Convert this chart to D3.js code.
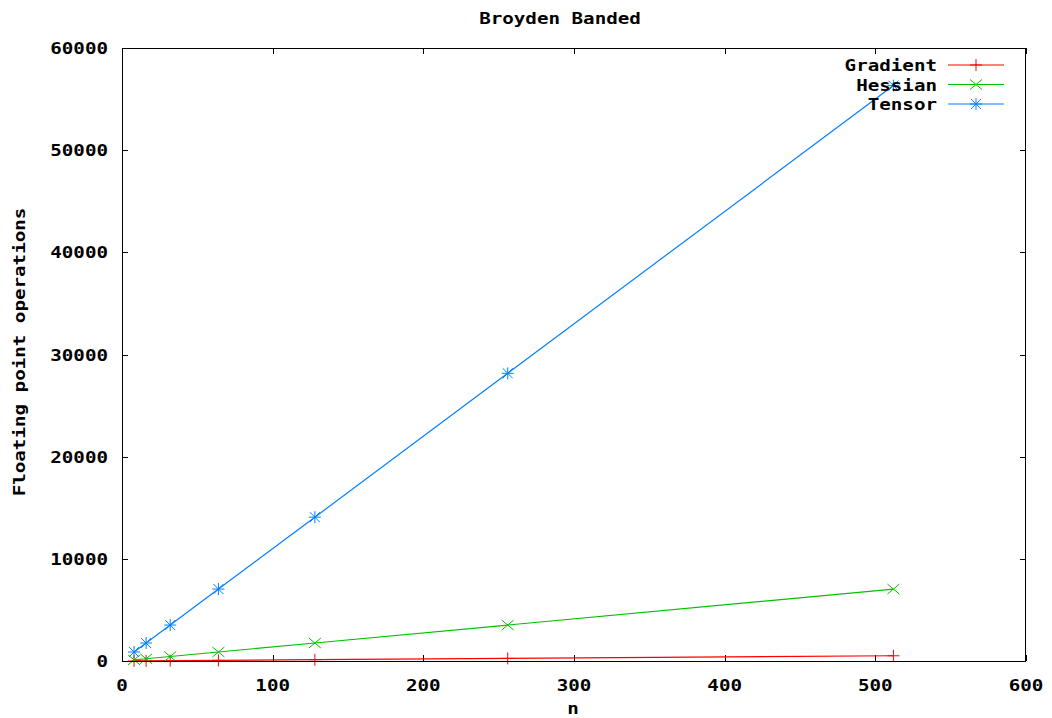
<!DOCTYPE html>
<html><head><meta charset="utf-8">
<script src="https://cdn.jsdelivr.net/npm/d3@7"></script>
<style>
html,body{margin:0;padding:0;background:#fff;}
text{font-family:"DejaVu Sans Mono","Liberation Mono",monospace;font-weight:bold;font-size:16px;fill:#000;}
</style></head>
<body><svg id="c" width="1052" height="718"></svg>
<script>
const nValues = [8, 16, 32, 64, 128, 256, 512];
const gradient = [8, 16, 32, 64, 128, 256, 512];
const hessian = [110, 220, 440, 880, 1760, 3520, 7040];
const tensor = [880, 1760, 3520, 7040, 14080, 28160, 56320];
const seriesNames = ["Gradient", "Hessian", "Tensor"];
const seriesColors = ["#ff0000", "#00c000", "#0080ff"];
const xTicks = [0, 100, 200, 300, 400, 500, 600];
const yTicks = [0, 10000, 20000, 30000, 40000, 50000, 60000];
const title = "Broyden Banded";
const xLabel = "n";
const yLabel = "Floating point operations";

const svg = d3.select("#c");
const L = 122, R = 1026, T = 48, B = 661;
const x = d3.scaleLinear().domain([0, 600]).range([L, R]);
const y = d3.scaleLinear().domain([0, 60000]).range([B, T]);
const SX = 1.2;

function label(px, py, txt, anchor, rot) {
  svg.append("g").attr("transform", "translate(" + px + "," + py + ")" + (rot ? " rotate(" + rot + ")" : "") + " scale(" + SX + ",1)")
    .append("text").attr("text-anchor", anchor).text(txt);
}

// ticks (inward, mirrored)
const tk = 6;
const g = svg.append("g").attr("stroke", "#000").attr("stroke-width", 1).attr("shape-rendering", "crispEdges");
xTicks.forEach(v => {
  const px = Math.round(x(v)) + 0.5;
  g.append("line").attr("x1", px).attr("x2", px).attr("y1", B).attr("y2", B - tk);
  g.append("line").attr("x1", px).attr("x2", px).attr("y1", T).attr("y2", T + tk);
});
yTicks.forEach(v => {
  const py = Math.round(y(v)) + 0.5;
  g.append("line").attr("x1", L).attr("x2", L + tk).attr("y1", py).attr("y2", py);
  g.append("line").attr("x1", R).attr("x2", R - tk).attr("y1", py).attr("y2", py);
});

// tick labels
xTicks.forEach(v => label(x(v), 691, v, "middle"));
yTicks.forEach(v => label(108, y(v) + 6, v, "end"));

// titles
label(560, 24, title, "middle");
label(573, 714, xLabel, "middle");
label(25, 352, yLabel, "middle", -90);

// markers
function marker(sel, type, cx, cy, color) {
  const s = 6;
  const m = sel.append("g").attr("stroke", color).attr("stroke-width", 1).attr("fill", "none");
  if (type === 0) {
    m.append("line").attr("x1", cx - s).attr("x2", cx + s).attr("y1", cy).attr("y2", cy);
    m.append("line").attr("x1", cx).attr("x2", cx).attr("y1", cy - s).attr("y2", cy + s);
  } else if (type === 1) {
    m.append("line").attr("x1", cx - s).attr("x2", cx + s).attr("y1", cy - s + 1).attr("y2", cy + s - 1);
    m.append("line").attr("x1", cx - s).attr("x2", cx + s).attr("y1", cy + s - 1).attr("y2", cy - s + 1);
  } else {
    m.append("line").attr("x1", cx - s).attr("x2", cx + s).attr("y1", cy).attr("y2", cy);
    m.append("line").attr("x1", cx).attr("x2", cx).attr("y1", cy - s).attr("y2", cy + s);
    m.append("line").attr("x1", cx - s + 1).attr("x2", cx + s - 1).attr("y1", cy - s + 1).attr("y2", cy + s - 1);
    m.append("line").attr("x1", cx - s + 1).attr("x2", cx + s - 1).attr("y1", cy + s - 1).attr("y2", cy - s + 1);
  }
}

const data = [gradient, hessian, tensor];
const line = d3.line().x(d => x(d[0])).y(d => y(d[1]));
data.forEach((vals, i) => {
  const pts = nValues.map((n, j) => [n, vals[j]]);
  svg.append("path").attr("d", line(pts)).attr("fill", "none").attr("stroke", seriesColors[i]).attr("stroke-width", 1.2);
  pts.forEach(p => marker(svg, i, x(p[0]), y(p[1]), seriesColors[i]));
});

// legend
seriesNames.forEach((name, i) => {
  const ly = 65 + i * 19.5;
  label(937, ly + 6, name, "end");
  svg.append("line").attr("x1", 948).attr("x2", 1004).attr("y1", ly).attr("y2", ly).attr("stroke", seriesColors[i]).attr("stroke-width", 1.2);
  marker(svg, i, 976, ly, seriesColors[i]);
});

// border
svg.append("rect").attr("x", L + 0.5).attr("y", T + 0.5).attr("width", R - L - 1).attr("height", B - T)
  .attr("fill", "none").attr("stroke", "#000").attr("stroke-width", 1.2).attr("shape-rendering", "crispEdges");
</script></body></html>
